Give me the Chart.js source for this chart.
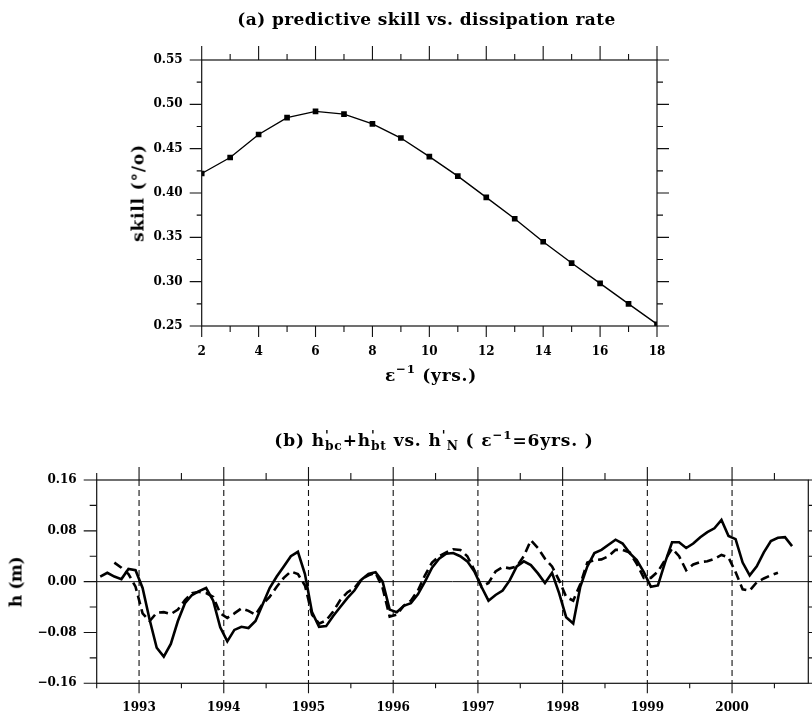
<!DOCTYPE html>
<html><head><meta charset="utf-8">
<script src="https://cdn.jsdelivr.net/npm/chart.js@4.4.1/dist/chart.umd.min.js"></script>
<style>
html,body{margin:0;padding:0;background:#fff;}
body{width:812px;height:718px;position:relative;overflow:hidden;font-family:"DejaVu Serif",serif;color:#000;}
canvas{position:absolute;left:0;}
#ca{top:0;}
#cb{top:380px;}
.lab{position:absolute;white-space:nowrap;font-family:"DejaVu Serif",serif;font-size:17px;line-height:19px;font-weight:bold;transform:translate(-50%,-50%);z-index:2;}
.rot{transform:translate(-50%,-50%) rotate(-90deg);}
.pr{display:inline-block;vertical-align:-0.35em;font-size:0.72em;line-height:0.85;text-align:left;}
.pr span{display:block;}
sup{font-size:0.7em;line-height:0;vertical-align:0.6em;}
</style></head>
<body>
<div class="lab" data-w="379" style="left:426.5px;top:19px">(a) predictive skill vs. dissipation rate</div>
<div class="lab" data-w="92" style="left:431px;top:375px">ε<sup>−1</sup> (yrs.)</div>
<div class="lab rot" data-w="98" style="left:138px;top:193px">skill (°/o)</div>
<div class="lab" data-w="322" style="left:434px;top:441px">(b) h<span class="pr"><span>'</span><span>bc</span></span>+h<span class="pr"><span>'</span><span>bt</span></span> vs. h<span class="pr"><span>'</span><span>&nbsp;N</span></span> ( ε<sup>−1</sup>=6yrs. )</div>
<div class="lab rot" data-w="50" style="left:16px;top:582px">h (m)</div>
<canvas id="ca" width="812" height="400"></canvas>
<canvas id="cb" width="812" height="338"></canvas>
<script>
// ---------- data: panel (a) ----------
const epsInv = [2,3,4,5,6,7,8,9,10,11,12,13,14,15,16,17,18];
const skill  = [0.422,0.440,0.466,0.485,0.492,0.489,0.478,0.462,0.441,0.419,0.395,0.371,0.345,0.321,0.298,0.275,0.252];
const skillXTicks = [2,4,6,8,10,12,14,16,18];
const skillYTicks = [0.25,0.30,0.35,0.40,0.45,0.50,0.55];

// ---------- data: panel (b) (monthly, first sample mid-July 1992) ----------
const firstMonth = 1992.5 + 0.5/12;
const hSolid = [0.008,0.014,0.008,0.004,0.020,0.018,-0.010,-0.060,-0.104,-0.118,
  -0.098,-0.062,-0.034,-0.021,-0.015,-0.010,-0.030,-0.072,-0.094,-0.076,
  -0.071,-0.073,-0.062,-0.036,-0.010,0.008,0.024,0.040,0.047,0.012,
  -0.048,-0.071,-0.070,-0.054,-0.040,-0.026,-0.014,0.003,0.012,0.015,
  0.000,-0.044,-0.048,-0.038,-0.034,-0.020,0.000,0.022,0.036,0.044,
  0.045,0.040,0.032,0.016,-0.008,-0.030,-0.021,-0.014,0.002,0.024,
  0.032,0.026,0.013,-0.002,0.014,-0.018,-0.056,-0.066,-0.008,0.024,
  0.045,0.050,0.058,0.066,0.060,0.045,0.034,0.015,-0.008,-0.006,
  0.030,0.062,0.062,0.053,0.060,0.070,0.078,0.084,0.097,0.072,
  0.067,0.030,0.010,0.024,0.046,0.064,0.069,0.070,0.056];
const dashedFirstIndex = 2;
const hDashed = [0.030,0.022,0.012,-0.008,-0.050,-0.062,-0.049,-0.048,
  -0.051,-0.044,-0.029,-0.018,-0.016,-0.018,-0.024,-0.050,-0.057,-0.050,
  -0.042,-0.046,-0.052,-0.035,-0.024,-0.008,0.006,0.016,0.012,-0.006,
  -0.052,-0.066,-0.061,-0.047,-0.029,-0.017,-0.010,0.004,0.010,0.014,
  -0.010,-0.055,-0.052,-0.038,-0.030,-0.014,0.010,0.030,0.040,0.046,
  0.051,0.050,0.040,0.018,-0.008,-0.002,0.016,0.023,0.021,0.024,
  0.040,0.065,0.053,0.036,0.024,0.002,-0.024,-0.030,-0.004,0.030,
  0.034,0.035,0.040,0.050,0.050,0.046,0.028,0.006,0.006,0.016,
  0.034,0.052,0.040,0.018,0.027,0.031,0.032,0.036,0.042,0.038,
  0.015,-0.012,-0.014,-0.001,0.005,0.010,0.014];
const yearTicks = [1993,1994,1995,1996,1997,1998,1999,2000];
const hYTicks = [-0.16,-0.08,0.00,0.08,0.16];

// ---------- text widths: spread letters to match the reference extents ----------
document.querySelectorAll('[data-w]').forEach(el => {
  const target = parseFloat(el.dataset.w);
  const w = el.offsetWidth, n = el.textContent.length;
  el.style.letterSpacing = ((target - w) / n).toFixed(2) + 'px';
});

// ---------- helpers ----------
Chart.defaults.font.family = '"DejaVu Serif", serif';
Chart.defaults.color = '#000';
const tickFont = {family:'"DejaVu Serif", serif', size:12, weight:'bold'};

function minorsOf(major, min, max){
  const step = major[1]-major[0], out = [];
  for (let v = major[0]-step/2; v <= max + 1e-9; v += step){
    if (v >= min - 1e-9) out.push(v);
  }
  return out;
}
const minus = s => s.replace('-', '\u2212');

const framePlugin = {
  id: 'frame',
  beforeDatasetsDraw(chart, args, o){
    const {ctx, chartArea:a, scales:{x,y}} = chart;
    ctx.save();
    ctx.strokeStyle = '#111';
    if (o.zeroLine){
      const py = y.getPixelForValue(0);
      ctx.lineWidth = 1;
      ctx.beginPath(); ctx.moveTo(a.left, py); ctx.lineTo(a.right, py); ctx.stroke();
    }
    if (o.xDashed){
      ctx.lineWidth = 1.1;
      ctx.setLineDash([6,4]);
      x.ticks.forEach(t => {
        const px = x.getPixelForValue(t.value);
        ctx.beginPath(); ctx.moveTo(px, a.top); ctx.lineTo(px, a.bottom); ctx.stroke();
      });
      ctx.setLineDash([]);
    }
    ctx.restore();
  },
  afterDatasetsDraw(chart, args, o){
    const {ctx, chartArea:a, scales:{x,y}} = chart;
    ctx.save();
    ctx.strokeStyle = '#111';
    ctx.lineWidth = 1.2;
    ctx.strokeRect(a.left, a.top, a.right-a.left, a.bottom-a.top);
    ctx.lineWidth = 1.1;
    const xMaj = x.ticks.map(t=>t.value), yMaj = y.ticks.map(t=>t.value);
    const xMin = minorsOf(xMaj, x.min, x.max), yMin = minorsOf(yMaj, y.min, y.max);
    const L = o.len;
    ctx.beginPath();
    const xt = (vals, big) => vals.forEach(v => {
      const px = x.getPixelForValue(v);
      ctx.moveTo(px, a.top); ctx.lineTo(px, a.top - (big?L.top[0]:L.top[1]));
      ctx.moveTo(px, a.bottom); ctx.lineTo(px, a.bottom + (big?L.bottom[0]:L.bottom[1]));
    });
    const yt = (vals, big) => vals.forEach(v => {
      const py = y.getPixelForValue(v);
      ctx.moveTo(a.left, py); ctx.lineTo(a.left - (big?L.left[0]:L.left[1]), py);
      ctx.moveTo(a.right, py); ctx.lineTo(a.right + (big?L.right[0]:L.right[1]), py);
    });
    xt(xMaj, true); xt(xMin, false); yt(yMaj, true); yt(yMin, false);
    ctx.stroke();
    ctx.restore();
  }
};

// ---------- chart (a) ----------
new Chart(document.getElementById('ca'), {
  type: 'line',
  data: { datasets: [{
    data: epsInv.map((e,i)=>({x:e, y:skill[i]})),
    borderColor:'#000', backgroundColor:'#000', borderWidth:1.4,
    pointStyle:'rect', pointRadius:4, pointBorderWidth:0, tension:0
  }]},
  options: {
    responsive:false, animation:false, devicePixelRatio:1,
    layout:{padding:{left:124.4, right:155, top:60, bottom:10.4}},
    plugins:{legend:{display:false}, tooltip:{enabled:false},
      frame:{len:{top:[14,6], bottom:[11,6], left:[12,5], right:[12,6]}}},
    scales:{
      x:{type:'linear', min:2, max:18,
        grid:{display:false, drawTicks:false}, border:{display:false},
        afterBuildTicks:s=>{ s.ticks = skillXTicks.map(v=>({value:v})); },
        afterFit:s=>{ s.height = 63.6; },
        ticks:{font:tickFont, padding:19, maxRotation:0, callback:v=>String(v)}},
      y:{type:'linear', min:0.25, max:0.55,
        grid:{display:false, drawTicks:false}, border:{display:false},
        afterBuildTicks:s=>{ s.ticks = skillYTicks.map(v=>({value:v})); },
        afterFit:s=>{ s.width = 77.3; },
        ticks:{font:tickFont, padding:19, callback:v=>v.toFixed(2)}}
    }
  },
  plugins:[framePlugin]
});

// ---------- chart (b) ----------
const tSolid = hSolid.map((v,i)=>({x:firstMonth + i/12, y:v}));
const tDashed = hDashed.map((v,i)=>({x:firstMonth + (i+dashedFirstIndex)/12, y:v}));
new Chart(document.getElementById('cb'), {
  type: 'line',
  data: { datasets: [
    {data:tSolid, borderColor:'#000', borderWidth:2.6, pointRadius:0, tension:0},
    {data:tDashed, borderColor:'#000', borderWidth:2.6, borderDash:[9,5], pointRadius:0, tension:0}
  ]},
  options: {
    responsive:false, animation:false, devicePixelRatio:1,
    layout:{padding:{left:1.4, right:3.7, top:100, bottom:0}},
    plugins:{legend:{display:false}, tooltip:{enabled:false},
      frame:{zeroLine:true, xDashed:true, len:{top:[13,7], bottom:[10,5], left:[13,7], right:[13,7]}}},
    scales:{
      x:{type:'linear', min:1992.5, max:2000.9,
        grid:{display:false, drawTicks:false}, border:{display:false},
        afterBuildTicks:s=>{ s.ticks = yearTicks.map(v=>({value:v})); },
        afterFit:s=>{ s.height = 34.7; },
        ticks:{font:tickFont, padding:17, maxRotation:0, autoSkip:false, callback:v=>String(v)}},
      y:{type:'linear', min:-0.16, max:0.16,
        grid:{display:false, drawTicks:false}, border:{display:false},
        afterBuildTicks:s=>{ s.ticks = hYTicks.map(v=>({value:v})); },
        afterFit:s=>{ s.width = 95.3; },
        ticks:{font:tickFont, padding:20, callback:v=>minus(v.toFixed(2))}}
    }
  },
  plugins:[framePlugin]
});
</script>
</body></html>
